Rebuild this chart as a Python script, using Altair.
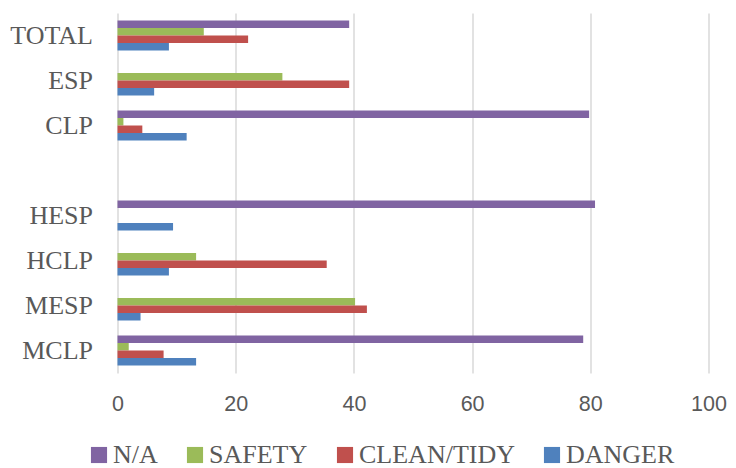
import altair as alt
import pandas as pd

categories = ["TOTAL", "ESP", "CLP", " ", "HESP", "HCLP", "MESP", "MCLP"]
series = ["N/A", "SAFETY", "CLEAN/TIDY", "DANGER"]
colors = ["#8064A2", "#9BBB59", "#C0504D", "#4F81BD"]

na_vals = [39.2, None, 79.8, None, 80.8, None, None, 78.8]
safety_vals = [14.6, 27.9, 1.0, None, None, 13.3, 40.2, 1.9]
clean_vals = [22.1, 39.2, 4.2, None, None, 35.4, 42.2, 7.8]
danger_vals = [8.7, 6.2, 11.7, None, 9.4, 8.7, 3.9, 13.3]

rows = []
for s, vals in zip(series, [na_vals, safety_vals, clean_vals, danger_vals]):
    for c, v in zip(categories, vals):
        if v is not None:
            rows.append({"category": c, "series": s, "value": v})
df = pd.DataFrame(rows)

serif = "Liberation Serif"
sans = "Liberation Sans"
gray = "#595959"

chart = (
    alt.Chart(df)
    .mark_bar(size=7.5)
    .encode(
        y=alt.Y(
            "category:N",
            sort=categories,
            scale=alt.Scale(domain=categories, paddingInner=1 / 3, paddingOuter=1 / 6),
            axis=alt.Axis(
                title=None,
                domain=False,
                ticks=False,
                grid=False,
                labelFont=serif,
                labelFontSize=26,
                labelColor=gray,
                labelPadding=25,
            ),
        ),
        yOffset=alt.YOffset("series:N", sort=series, scale=alt.Scale(domain=series, paddingInner=0, paddingOuter=0)),
        x=alt.X(
            "value:Q",
            scale=alt.Scale(domain=[0, 100], nice=False),
            axis=alt.Axis(
                title=None,
                values=[0, 20, 40, 60, 80, 100],
                domain=False,
                ticks=False,
                grid=True,
                gridColor="#D9D9D9",
                gridWidth=1.5,
                labelFont=sans,
                labelFontSize=21.5,
                labelColor=gray,
                labelPadding=20,
                labelFlush=False,
            ),
        ),
        color=alt.Color(
            "series:N",
            sort=series,
            scale=alt.Scale(domain=series, range=colors),
            legend=alt.Legend(
                title=None,
                orient="none",
                direction="horizontal",
                legendX=-31.5,
                legendY=429,
                symbolType="square",
                symbolSize=260,
                symbolStrokeWidth=0,
                labelFont=serif,
                labelFontSize=26,
                labelColor=gray,
                labelOffset=1,
                columnPadding=24,
            ),
        ),
    )
    .properties(
        width=591,
        height=360,
        autosize=alt.AutoSizeParams(type="none"),
        padding={"left": 109.5, "top": 5, "right": 19.5, "bottom": 95},
    )
    .configure_view(stroke=None)
)

chart.save("out.html", embed_options={"renderer": "svg", "actions": False})
